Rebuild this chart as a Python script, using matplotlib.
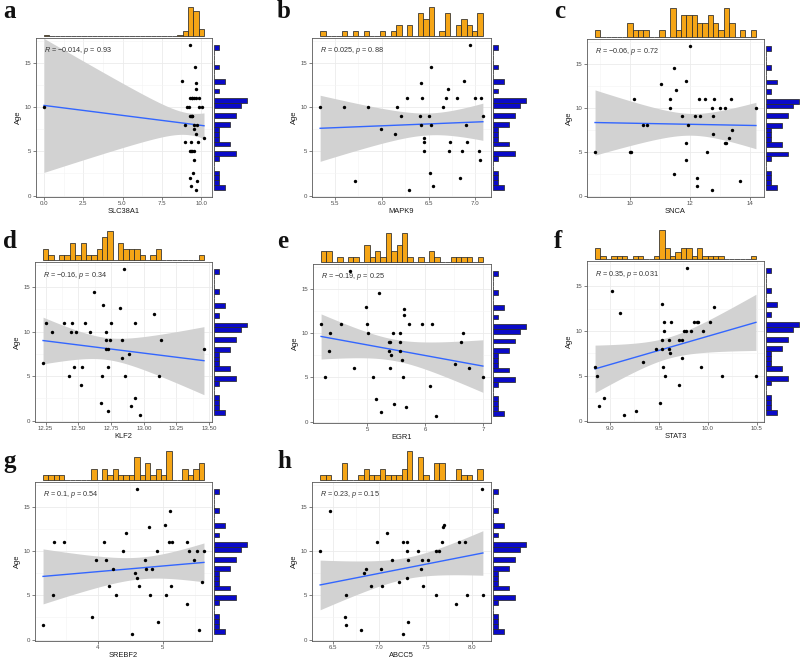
import numpy as np
import matplotlib
matplotlib.use("Agg")
import matplotlib.pyplot as plt

plt.rcParams["font.family"] = ["Liberation Sans", "DejaVu Sans"]
plt.rcParams["mathtext.fontset"] = "custom"
plt.rcParams["mathtext.it"] = "Liberation Sans:italic"
plt.rcParams["mathtext.rm"] = "Liberation Sans"

# ---- data -------------------------------------------------------------
age = [0.65, 1.1, 1.65, 2.0, 2.5, 4.0,
       5, 5, 5, 5, 6, 6, 6, 6.5, 7, 7.5, 8, 8, 8,
       9, 9, 9, 9, 10, 10, 10, 10, 10,
       11, 11, 11, 11, 11, 11, 12, 12.7, 13, 14.5, 17]

genes = ["SLC38A1", "MAPK9", "SNCA", "KLF2", "EGR1", "STAT3", "SREBF2", "ABCC5"]
letters = ["a", "b", "c", "d", "e", "f", "g", "h"]

x_slc38a1 = [9.65, 9.37, 9.75, 9.31, 9.50, 9.56,
             9.29, 9.35, 9.41, 9.54, 8.95, 9.35, 9.83, 10.19, 9.65, 9.58,
             9.01, 9.56, 9.75, 9.31, 9.35, 9.40, 9.43,
             0.0, 9.08, 9.25, 9.87, 10.04,
             9.33, 9.40, 9.45, 9.58, 9.71, 9.87, 9.67, 9.69, 8.76, 9.60, 9.29]
x_mapk9 = [6.29, 6.55, 5.71, 6.84, 6.51, 7.05,
           6.45, 6.72, 6.86, 7.04, 6.45, 6.73, 6.91, 6.45, 6.14, 5.99,
           6.42, 6.53, 6.90, 6.20, 6.41, 6.50, 7.08,
           5.34, 5.60, 5.85, 6.16, 6.65,
           6.27, 6.43, 6.69, 6.80, 7.00, 7.06, 6.71, 6.42, 6.88, 6.53, 6.94]
x_snca = [12.73, 12.21, 13.66, 12.21, 11.44, 11.86,
          8.82, 10.0, 10.02, 12.57, 11.86, 13.15, 13.18, 13.28, 12.74, 13.40,
          10.42, 10.55, 11.92, 11.72, 12.14, 12.31, 12.76,
          11.33, 12.71, 13.0, 13.17, 14.19,
          10.12, 11.33, 12.29, 12.49, 12.78, 13.36, 11.51, 11.02, 11.87, 11.44, 11.99]
x_klf2 = [12.97, 12.73, 12.90, 12.67, 12.93, 12.52,
          12.43, 12.68, 12.86, 13.12, 12.47, 12.53, 12.73, 12.23, 12.83, 12.89,
          12.71, 12.73, 13.46, 12.71, 12.74, 12.83, 13.13,
          12.30, 12.44, 12.48, 12.59, 12.71,
          12.25, 12.39, 12.45, 12.55, 12.75, 12.93, 13.08, 12.82, 12.69, 12.62, 12.85]
x_egr1 = [6.19, 5.24, 5.67, 5.47, 5.16, 6.08,
          4.28, 5.11, 5.61, 6.99, 4.78, 5.39, 6.75, 6.51, 5.60, 5.41,
          4.35, 5.38, 5.56, 5.38, 5.40, 5.56, 6.61,
          4.37, 5.02, 5.45, 5.56, 6.64,
          4.21, 4.55, 5.00, 5.72, 5.95, 6.12, 5.64, 5.64, 4.99, 5.21, 4.71]
x_stat3 = [9.15, 9.27, 8.89, 9.51, 8.94, 9.71,
           8.87, 9.56, 10.14, 10.49, 8.85, 9.54, 9.93, 9.34, 9.74, 9.61,
           9.47, 9.53, 9.60, 9.53, 9.60, 9.71, 9.74,
           9.55, 9.76, 9.78, 9.83, 9.95,
           9.55, 9.62, 9.86, 9.89, 9.90, 10.02, 9.10, 10.06, 9.53, 9.02, 9.79]
x_srebf2 = [4.53, 5.57, 3.15, 4.93, 3.91, 5.37,
            3.31, 4.28, 4.80, 5.06, 4.17, 4.63, 5.13, 5.61, 4.61, 4.57,
            4.24, 4.75, 4.84, 3.97, 4.13, 4.72, 5.48,
            4.39, 4.92, 5.41, 5.53, 5.64,
            3.32, 3.47, 4.09, 5.10, 5.14, 5.37, 4.44, 4.79, 5.03, 5.11, 4.60]
x_abcc5 = [7.26, 6.80, 6.64, 7.31, 6.63, 7.83,
           6.64, 7.61, 7.95, 8.12, 6.91, 7.03, 7.47, 7.21, 7.30, 6.83,
           6.86, 7.02, 7.45, 7.14, 7.31, 7.46, 7.53,
           6.36, 7.30, 7.42, 7.61, 7.65,
           6.98, 7.26, 7.30, 7.68, 7.86, 7.93, 7.08, 7.69, 7.70, 6.47, 8.11]

r_labels = ["\u22120.014", "0.025", "\u22120.06", "\u22120.16",
            "\u22120.19", "0.35", "0.1", "0.23"]
p_labels = ["0.93", "0.88", "0.72", "0.34", "0.25", "0.031", "0.54", "0.15"]

xtick_vals = [[0, 2.5, 5, 7.5, 10], [5.5, 6.0, 6.5, 7.0], [10, 12, 14],
              [12.25, 12.5, 12.75, 13.0, 13.25, 13.5], [5, 6, 7],
              [9.0, 9.5, 10.0, 10.5], [4, 5], [6.5, 7.0, 7.5, 8.0]]
xtick_text = [["0.0", "2.5", "5.0", "7.5", "10.0"], ["5.5", "6.0", "6.5", "7.0"],
              ["10", "12", "14"],
              ["12.25", "12.50", "12.75", "13.00", "13.25", "13.50"],
              ["5", "6", "7"], ["9.0", "9.5", "10.0", "10.5"], ["4", "5"],
              ["6.5", "7.0", "7.5", "8.0"]]
ytick_vals = [0, 5, 10, 15]

xs_all = [x_slc38a1, x_mapk9, x_snca, x_klf2, x_egr1, x_stat3, x_srebf2, x_abcc5]

# ---- layout (pixels: left, top, right, bottom) ----------------------------
W, H = 800, 660
boxes = [(36, 38, 212, 197), (312, 38, 491, 197), (587, 39, 764, 197),
         (35, 262, 212, 422), (313, 264, 491, 423), (587, 261, 764, 422),
         (35, 482, 212, 641), (312, 482, 491, 641)]
letter_pos = [(3, 18), (277, 18), (554, 18), (3, 248), (277, 248), (554, 248),
              (3, 468), (277, 468)]

ORANGE = "#F5A516"
BLUE = "#0A0AC8"
EDGE = "#2A2A2A"
TCRIT = 2.026

fig = plt.figure(figsize=(W / 100, H / 100), dpi=100)


def px_axes(L, T, R, B):
    return fig.add_axes([L / W, 1 - B / H, (R - L) / W, (B - T) / H])


def minor_between(ticks, lo, hi):
    t = np.array(ticks, dtype=float)
    step = t[1] - t[0]
    cand = np.concatenate([[t[0] - step / 2], (t[:-1] + t[1:]) / 2, [t[-1] + step / 2]])
    return [c for c in cand if lo <= c <= hi]


y = np.array(age, dtype=float)
for i in range(8):
    x = np.array(xs_all[i], dtype=float)
    L, T, R, B = boxes[i]
    ax = px_axes(L, T, R, B)

    xr = x.max() - x.min()
    xlo, xhi = x.min() - 0.05 * xr, x.max() + 0.05 * xr
    yr = y.max() - y.min()
    ylo, yhi = y.min() - 0.05 * yr, y.max() + 0.05 * yr

    # regression with 95% CI
    n = len(x)
    xm, ym = x.mean(), y.mean()
    sxx = ((x - xm) ** 2).sum()
    b1 = ((x - xm) * (y - ym)).sum() / sxx
    b0 = ym - b1 * xm
    resid = y - (b0 + b1 * x)
    s = np.sqrt((resid ** 2).sum() / (n - 2))
    gx = np.linspace(x.min(), x.max(), 100)
    gy = b0 + b1 * gx
    se = s * np.sqrt(1 / n + (gx - xm) ** 2 / sxx)
    ax.fill_between(gx, gy - TCRIT * se, gy + TCRIT * se, color="#D2D2D2",
                    lw=0, zorder=2)
    ax.plot(gx, gy, color="#3366FF", lw=1.0, zorder=3)
    ax.scatter(x, y, s=6, color="black", lw=0, zorder=4)

    ax.set_xlim(xlo, xhi)
    ax.set_ylim(ylo, yhi)
    ax.set_xticks(xtick_vals[i])
    ax.set_xticklabels(xtick_text[i])
    ax.set_yticks(ytick_vals)
    ax.set_xticks(minor_between(xtick_vals[i], xlo, xhi), minor=True)
    ax.set_yticks(minor_between(ytick_vals, ylo, yhi), minor=True)
    ax.grid(True, which="major", color="#EBEBEB", lw=0.6, zorder=0)
    ax.grid(True, which="minor", color="#F4F4F4", lw=0.4, zorder=0)
    ax.set_axisbelow(True)
    ax.tick_params(which="major", labelsize=4.4, colors="#4D4D4D", length=2,
                   width=0.5, pad=1.2)
    ax.tick_params(which="minor", length=0)
    for sp in ax.spines.values():
        sp.set_color("#5A5A5A")
        sp.set_linewidth(0.6)
    ax.set_xlabel(genes[i], fontsize=5.4, color="#1A1A1A", labelpad=0.8)
    ax.set_ylabel("Age", fontsize=5.4, color="#1A1A1A", labelpad=2)
    ax.text(x.min(), 16.35,
            r"$\it{R}$ = " + r_labels[i] + r", $\it{p}$ = " + p_labels[i],
            fontsize=5.2, color="#333333", ha="left", va="center", zorder=5)

    # top marginal histogram
    axt = px_axes(L, T - 32, R, T - 1)
    cnt, edges, _ = axt.hist(x, bins=30, color=ORANGE, edgecolor=EDGE, lw=0.55)
    axt.set_xlim(xlo, xhi)
    axt.set_ylim(-0.02 * cnt.max(), cnt.max() * 1.03)
    axt.axis("off")

    # right marginal histogram
    axr = px_axes(R + 1, T, R + 36, B)
    cnt2, _, _ = axr.hist(y, bins=30, orientation="horizontal", color=BLUE,
                          edgecolor=EDGE, lw=0.55)
    axr.set_ylim(ylo, yhi)
    axr.set_xlim(-0.02 * cnt2.max(), cnt2.max() * 1.04)
    axr.axis("off")

    lx, ly = letter_pos[i]
    fig.text(lx / W, 1 - ly / H, letters[i], fontsize=18, fontweight="bold",
             family=["Liberation Serif", "DejaVu Serif"], va="baseline",
             ha="left", color="#111111")

fig.savefig("out.png", dpi=100)
